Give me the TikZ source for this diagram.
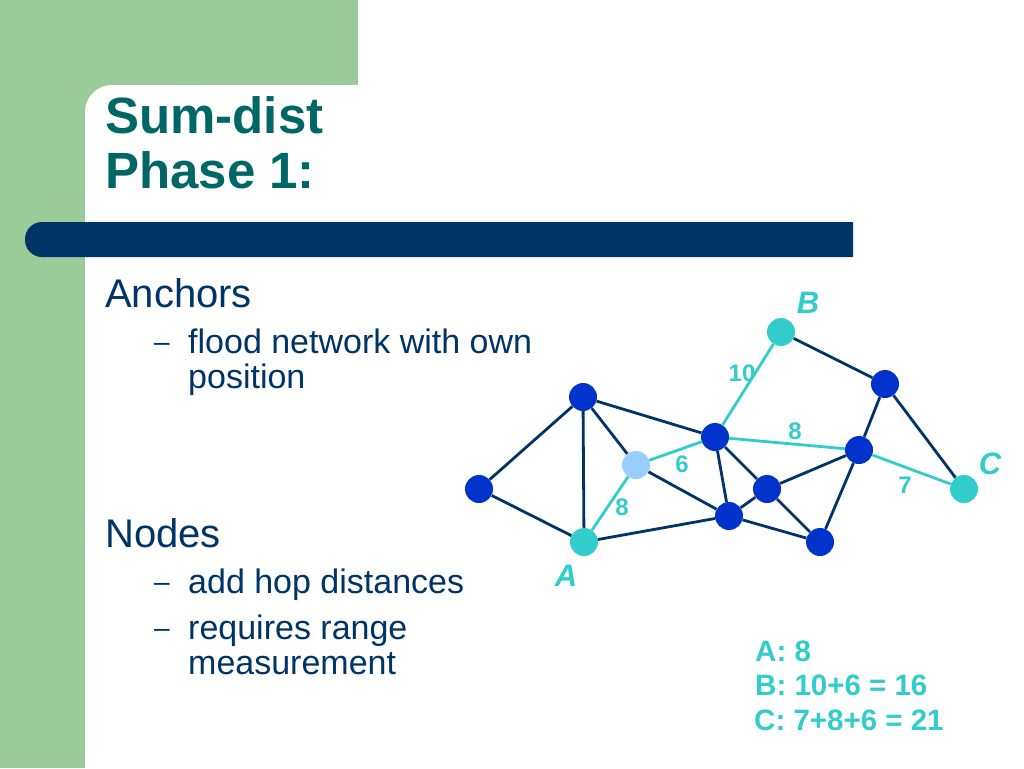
\documentclass[tikz,border=0pt]{standalone}
\usepackage{fontspec}
\setmainfont{Liberation Sans}
\usetikzlibrary{positioning}
\definecolor{panelgreen}{RGB}{153, 204, 153}
\definecolor{navy}{RGB}{0, 51, 102}
\definecolor{titleteal}{RGB}{0, 102, 102}
\definecolor{anchorcyan}{RGB}{51, 204, 204}
\definecolor{nodeblue}{RGB}{0, 51, 204}
\definecolor{paleblue}{RGB}{153, 204, 255}

\begin{document}
\begin{tikzpicture}[
    x=1pt, y=-1pt,
    sensor/.style={circle, fill=nodeblue, minimum size=28pt, inner sep=0pt},
    anchor node/.style={sensor, fill=anchorcyan},
    link/.style={navy, line width=2.8pt},
    path link/.style={anchorcyan, line width=2.8pt},
    hop/.style={font=\fontsize{24}{26}\selectfont\bfseries, text=anchorcyan, inner sep=0pt},
    letter/.style={font=\fontsize{31}{33}\selectfont\bfseries\itshape, text=anchorcyan, inner sep=0pt},
    bullet/.style={anchor=base west, inner sep=0pt, text=navy, font=\fontsize{40}{44}\selectfont},
    item/.style={anchor=base west, inner sep=0pt, text=navy, font=\fontsize{34}{35}\selectfont},
    itemdash/.style={anchor=base west, inner sep=0pt, text=navy, font=\fontsize{28}{30}\selectfont},
    sum/.style={anchor=base west, inner sep=0pt, text=anchorcyan, font=\fontsize{29.5}{31}\selectfont\bfseries}
]
    \useasboundingbox (0,0) rectangle (1024,768);
    % Slide background
    \fill[panelgreen] (0,0) rectangle (85,768);
    \fill[panelgreen] (0,0) rectangle (358,85);
    \fill[panelgreen] (85,85) rectangle (112,112);
    \fill[white] (112,112) circle[radius=27];
    \fill[navy] (853,222) [rounded corners=17pt] -- (25,222) -- (25,257) [sharp corners] -- (853,257) -- cycle;

    % Title
    \node[anchor=base west, inner sep=0pt, text=titleteal, font=\fontsize{51}{56}\selectfont\bfseries] (title1) at (105,133) {Sum-dist};
    \node[anchor=base west, inner sep=0pt, text=titleteal, font=\fontsize{51}{56}\selectfont\bfseries] (title2) at (105,188) {Phase 1:};

    % Text - anchors
    \node[bullet] (anchors) at (105,307) {Anchors};
    \node[itemdash] (dash1) at (154,351) {–};
    \node[item] (flood) at (188,353) {flood network with own};
    \node[item] (position) at (188,388) {position};

    % Text - nodes
    \node[bullet] (nodes) at (105,547) {Nodes};
    \node[itemdash] (dash2) at (154,591) {–};
    \node[item] (hops) at (188,593) {add hop distances};
    \node[itemdash] (dash3) at (154,637) {–};
    \node[item] (range) at (188,639) {requires range};
    \node[item] (measure) at (188,674) {measurement};

    % Network nodes
    \node[sensor] (n1) at (479,489) {};
    \node[sensor] (n2) at (583,397) {};
    \node[anchor node] (a) at (584,542) {};
    \node[sensor, fill=paleblue] (u) at (636,465) {};
    \node[sensor] (n3) at (715,437) {};
    \node[anchor node] (b) at (781,332) {};
    \node[sensor] (n4) at (885,384) {};
    \node[sensor] (n5) at (859,450) {};
    \node[anchor node] (c) at (964,489) {};
    \node[sensor] (n6) at (767,489) {};
    \node[sensor] (n7) at (729,516) {};
    \node[sensor] (n8) at (820,542) {};

    % Links
    \draw[link] (n1) -- (n2);
    \draw[link] (n1) -- (a);
    \draw[link] (n2) -- (a);
    \draw[link] (n2) -- (u);
    \draw[link] (n2) -- (n3);
    \draw[link] (u) -- (n7);
    \draw[link] (n3) -- (n7);
    \draw[link] (n3) -- (n6);
    \draw[link] (n6) -- (n7);
    \draw[link] (n6) -- (n5);
    \draw[link] (n6) -- (n8);
    \draw[link] (n7) -- (n8);
    \draw[link] (a) -- (n7);
    \draw[link] (n5) -- (n8);
    \draw[link] (n4) -- (n5);
    \draw[link] (n4) -- (c);
    \draw[link] (b) -- (n4);

    % Shortest paths from the anchors
    \draw[path link] (a) -- (u);
    \draw[path link] (u) -- (n3);
    \draw[path link] (n3) -- (b);
    \draw[path link] (n3) -- (n5);
    \draw[path link] (n5) -- (c);

    % Hop distances
    \node[hop] (d10) at (742,373) {10};
    \node[hop] (d8a) at (795,431) {8};
    \node[hop] (d6) at (682,464) {6};
    \node[hop] (d8b) at (622,507) {8};
    \node[hop] (d7) at (905,485) {7};

    % Anchor names
    \node[letter] (nameb) at (808,303) {B};
    \node[letter] (namea) at (566,576) {A};
    \node[letter] (namec) at (990,464) {C};

    % Sums
    \node[sum] (suma) at (755,661) {A: 8};
    \node[sum] (sumb) at (755,695) {B: 10+6 = 16};
    \node[sum] (sumc) at (754,730) {C: 7+8+6 = 21};
\end{tikzpicture}
\end{document}
